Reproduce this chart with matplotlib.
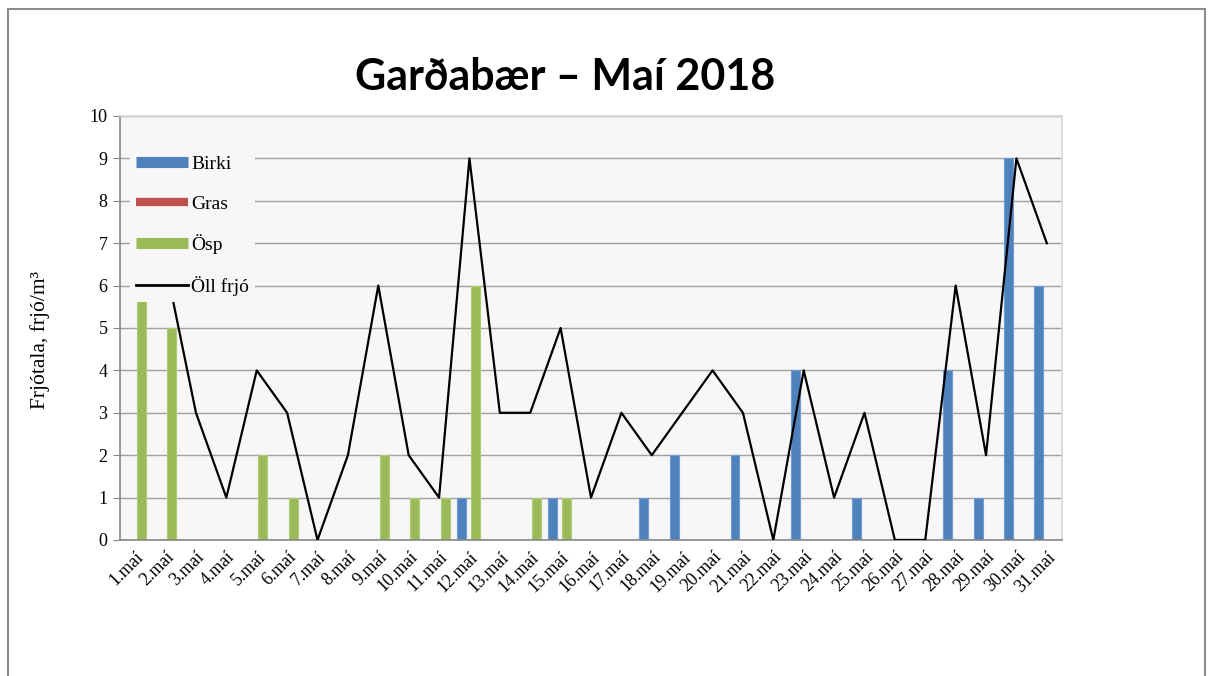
import numpy as np
import matplotlib.pyplot as plt
from matplotlib.lines import Line2D
from matplotlib.patches import Rectangle

days = [f"{i}.maí" for i in range(1, 32)]
birki = [0, 0, 0, 0, 0, 0, 0, 0, 0, 0, 0, 1, 0, 0, 1, 0, 0, 1, 2, 0,
         2, 0, 4, 0, 1, 0, 0, 4, 1, 9, 6]
gras = [0] * 31
osp = [5.65, 5, 0, 0, 2, 1, 0, 0, 2, 1, 1, 6, 0, 1, 1, 0, 0, 0, 0, 0,
       0, 0, 0, 0, 0, 0, 0, 0, 0, 0, 0]
oll = [7, 6.5, 3, 1, 4, 3, 0, 2, 6, 2, 1, 9, 3, 3, 5, 1, 3, 2, 3, 4,
       3, 0, 4, 1, 3, 0, 0, 6, 2, 9, 7]

c_birki = "#4f81bd"
c_gras = "#c0504d"
c_osp = "#9bbb59"
bg = "#f7f7f7"
serif = "Liberation Serif"

fig = plt.figure(figsize=(12.12, 6.76), dpi=100)
ax = fig.add_axes([120 / 1212, 1 - 540 / 676, 942 / 1212, 424 / 676])
ax.set_facecolor(bg)

x = np.arange(len(days))
w = 0.29
# birki sits left of the day, ösp to the right (gras in between, always 0)
ax.bar(x - 0.26, birki, width=w, color=c_birki, edgecolor="#6d9bd4", linewidth=0.8, zorder=2)
ax.bar(x - 0.03, gras, width=w, color=c_gras, linewidth=0, zorder=2)
ax.bar(x + 0.20, osp, width=w, color=c_osp, edgecolor="#aecb78", linewidth=0.8, zorder=2)
ax.plot(x, oll, color="black", lw=1.6, zorder=3)

ax.set_xlim(-0.5, 30.5)
ax.set_ylim(0, 10)
ax.set_yticks(range(11))
ax.set_xticks(x)
ax.set_xticklabels(days, rotation=45, ha="right", rotation_mode="anchor",
                   fontfamily=serif, fontsize=13)
ax.tick_params(axis="x", length=0, pad=6)
ax.tick_params(axis="y", length=5, color="#888888", labelsize=13, pad=4)
for lab in ax.get_yticklabels():
    lab.set_fontfamily(serif)

ax.set_axisbelow(True)
ax.yaxis.grid(True, color="#a0a0a0", lw=1)
for s in ["top", "right"]:
    ax.spines[s].set_color("#d9d9d9")
    ax.spines[s].set_linewidth(1.2)
for s in ["left", "bottom"]:
    ax.spines[s].set_color("#888888")
    ax.spines[s].set_linewidth(1.2)

handles = [Line2D([], [], color=c_birki, lw=8, solid_capstyle="butt"),
           Line2D([], [], color=c_gras, lw=6, solid_capstyle="butt"),
           Line2D([], [], color=c_osp, lw=8, solid_capstyle="butt"),
           Line2D([], [], color="black", lw=2)]
leg = ax.legend(handles, ["Birki", "Gras", "Ösp", "Öll frjó"],
                loc="upper left", bbox_to_anchor=(120 / 1212, 1 - 140 / 676),
                bbox_transform=fig.transFigure, prop={"family": serif, "size": 14},
                handlelength=2.7, handletextpad=0.15, labelspacing=1.12,
                frameon=True, facecolor=bg, edgecolor="none", framealpha=1,
                borderpad=0.3, fancybox=False)
leg.set_zorder(5)

fig.text(565 / 1212, 1 - 77 / 676, "Garðabær – Maí 2018", ha="center", va="center",
         fontfamily="Lato", fontweight="bold", fontsize=31)
fig.text(40 / 1212, 1 - 340 / 676, "Frjótala, frjó/m³", rotation=90, ha="center",
         va="center", fontfamily=serif, fontsize=15.5)

fig.patches.append(Rectangle((8 / 1212, -0.05), 1197 / 1212, 1.05 - 9 / 676,
                             transform=fig.transFigure, fill=False,
                             edgecolor="#8c8c8c", lw=1.5))

fig.savefig("out.png", dpi=100)
